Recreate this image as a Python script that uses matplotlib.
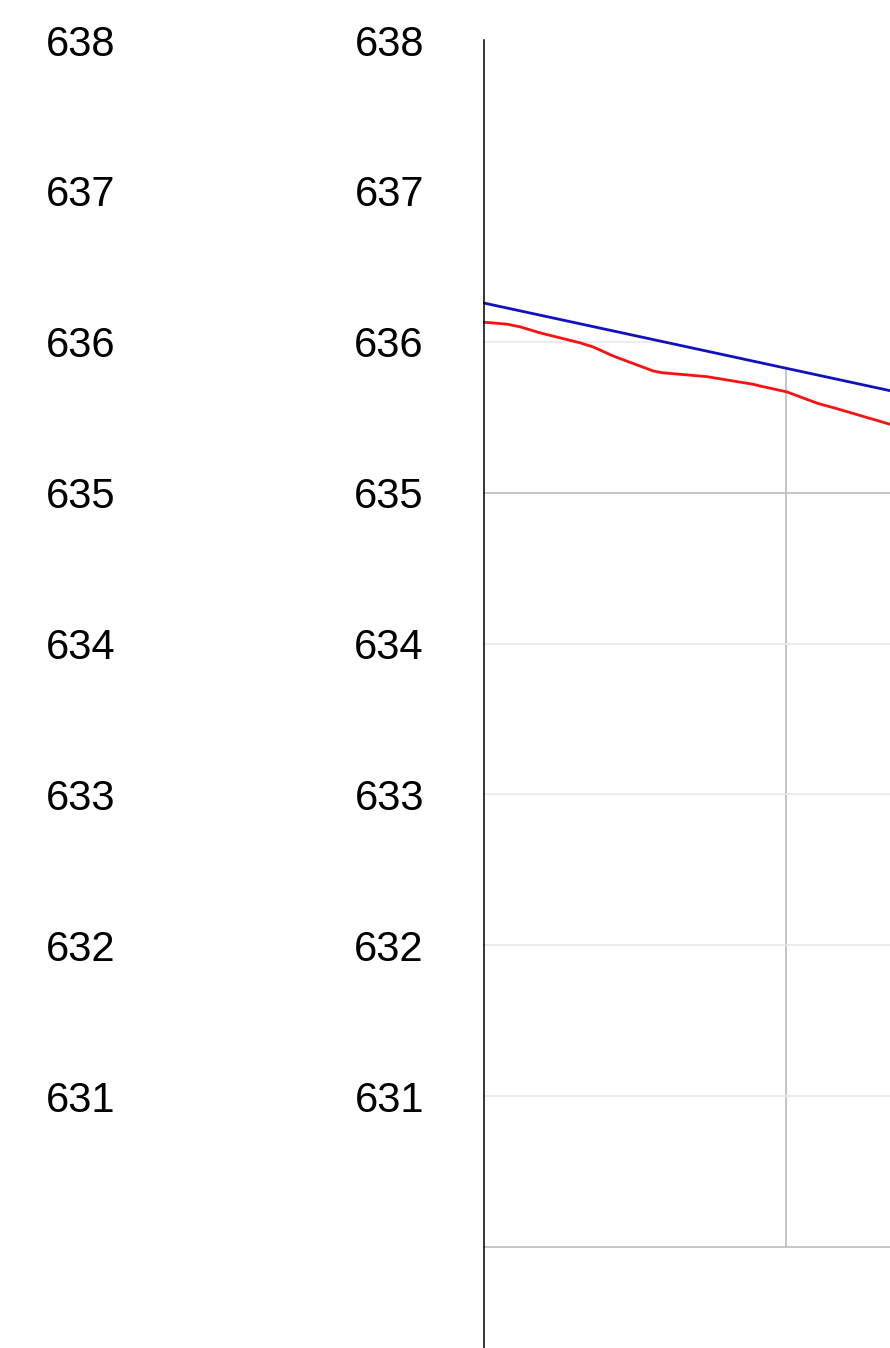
import numpy as np
import matplotlib.pyplot as plt
import matplotlib.transforms as mtransforms
from matplotlib.lines import Line2D

# level labels (two identical columns on the left)
levels = [638, 637, 636, 635, 634, 633, 632, 631]

# blue line (straight)
blue_x = [0.0, 13.43]
blue_y = [636.258, 635.676]

# red line
red_x = [0.0, 0.78, 1.22, 1.88, 3.20, 3.64, 4.30, 5.62, 5.90, 7.38, 8.92, 9.14,
         10.02, 10.46, 11.07, 11.67, 13.43]
red_y = [636.130, 636.117, 636.099, 636.059, 635.993, 635.965, 635.905, 635.806,
         635.795, 635.769, 635.718, 635.707, 635.668, 635.635, 635.590, 635.557,
         635.453]

plt.rcParams['font.family'] = ['Liberation Sans', 'DejaVu Sans']

W, H = 890, 1348
fig = plt.figure(figsize=(W / 100, H / 100), dpi=100)
# plot area ends at the 630 line, the level axis goes on below it
ax = fig.add_axes([483 / W, (H - 1248) / H, 1 - 483 / W, (1248 - 40) / H])

ax.set_xlim(0, 13.43)
ax.set_ylim(629.994, 637.976)

ax.set_yticks([630, 635])
ax.set_yticks([631, 632, 633, 634, 636, 637, 638], minor=True)
ax.set_xticks([10])
ax.tick_params(which='both', length=0, labelleft=False, labelbottom=False)
ax.set_axisbelow(True)
ax.grid(which='major', axis='both', color='#c0c0c0', lw=1.3)
ax.grid(which='minor', axis='y', color='#e8e8e8', lw=1.2)

for s in ['top', 'right', 'bottom', 'left']:
    ax.spines[s].set_visible(False)
fig.add_artist(Line2D([483.5 / W, 483.5 / W], [0, (H - 40) / H], color='black',
                      lw=1.1, transform=fig.transFigure))

# white area above the blue line hides the grid there
ax.fill_between(blue_x, blue_y, 640, color='white', lw=0, zorder=1.5)

ax.plot(red_x, red_y, color='#ff1010', lw=2.0, zorder=3)
ax.plot(blue_x, blue_y, color='#1010c0', lw=2.0, zorder=3)

trans = mtransforms.blended_transform_factory(fig.transFigure, ax.transData)
trans = mtransforms.offset_copy(trans, fig=fig, y=-11.2, units='points')
for v in levels:
    ax.text(46 / W, v, str(v), transform=trans, ha='left', va='baseline',
            fontsize=30, clip_on=False)
    ax.text(424 / W, v, str(v), transform=trans, ha='right', va='baseline',
            fontsize=30, clip_on=False)

fig.savefig('out.png', dpi=100)
